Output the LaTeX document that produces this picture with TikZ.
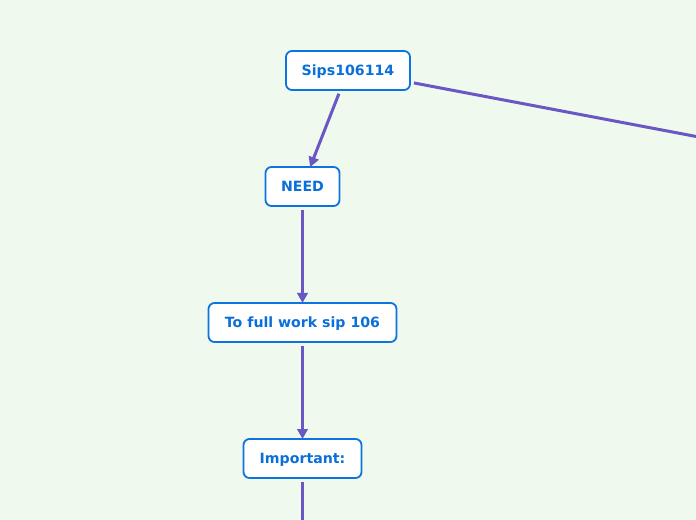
\documentclass[tikz,border=0pt]{standalone}
\usepackage{fontspec}
\setmainfont{DejaVu Sans}
\usetikzlibrary{arrows.meta}
\definecolor{bg}{HTML}{F0F9EE}
\definecolor{nodeblue}{HTML}{0B74DE}
\definecolor{txtblue}{HTML}{0A6FD8}
\definecolor{linkpurple}{HTML}{6A57C4}
\tikzset{
  topic/.style={draw=nodeblue, line width=1.35pt, fill=white, rounded corners=4.5pt,
    text=txtblue, font=\bfseries\fontsize{10.6}{12}\selectfont, inner sep=0pt, outer sep=0pt,
    text height=7.6pt, text depth=0.4pt},
  link/.style={draw=linkpurple, line width=2.25pt, shorten <=3pt},
  linkarrow/.style={link, -{Triangle[length=7.5pt,width=7.8pt]}}
}
\begin{document}
\begin{tikzpicture}[x=0.75pt,y=-0.75pt]
\fill[bg] (0,0) rectangle (696,520);
\useasboundingbox (0,0) rectangle (696,520);
\node[topic, minimum width=124*0.75pt, minimum height=39*0.75pt] (root) at (348,70.5) {Sips106114};
\node[topic, minimum width=74*0.75pt, minimum height=39*0.75pt] (need) at (302.5,186.5) {NEED};
\node[topic, minimum width=188*0.75pt, minimum height=39*0.75pt] (full) at (302.5,322.5) {To full work sip 106};
\node[topic, minimum width=118*0.75pt, minimum height=39*0.75pt] (imp) at (302.5,458.5) {Important:};
\coordinate (offright) at (702,137.6);
\coordinate (offbottom) at (302.5,530);
\draw[linkarrow] (root) -- (need);
\draw[link] (root) -- (offright);
\draw[linkarrow] (need) -- (full);
\draw[linkarrow] (full) -- (imp);
\draw[link] (imp) -- (offbottom);
\end{tikzpicture}
\end{document}
